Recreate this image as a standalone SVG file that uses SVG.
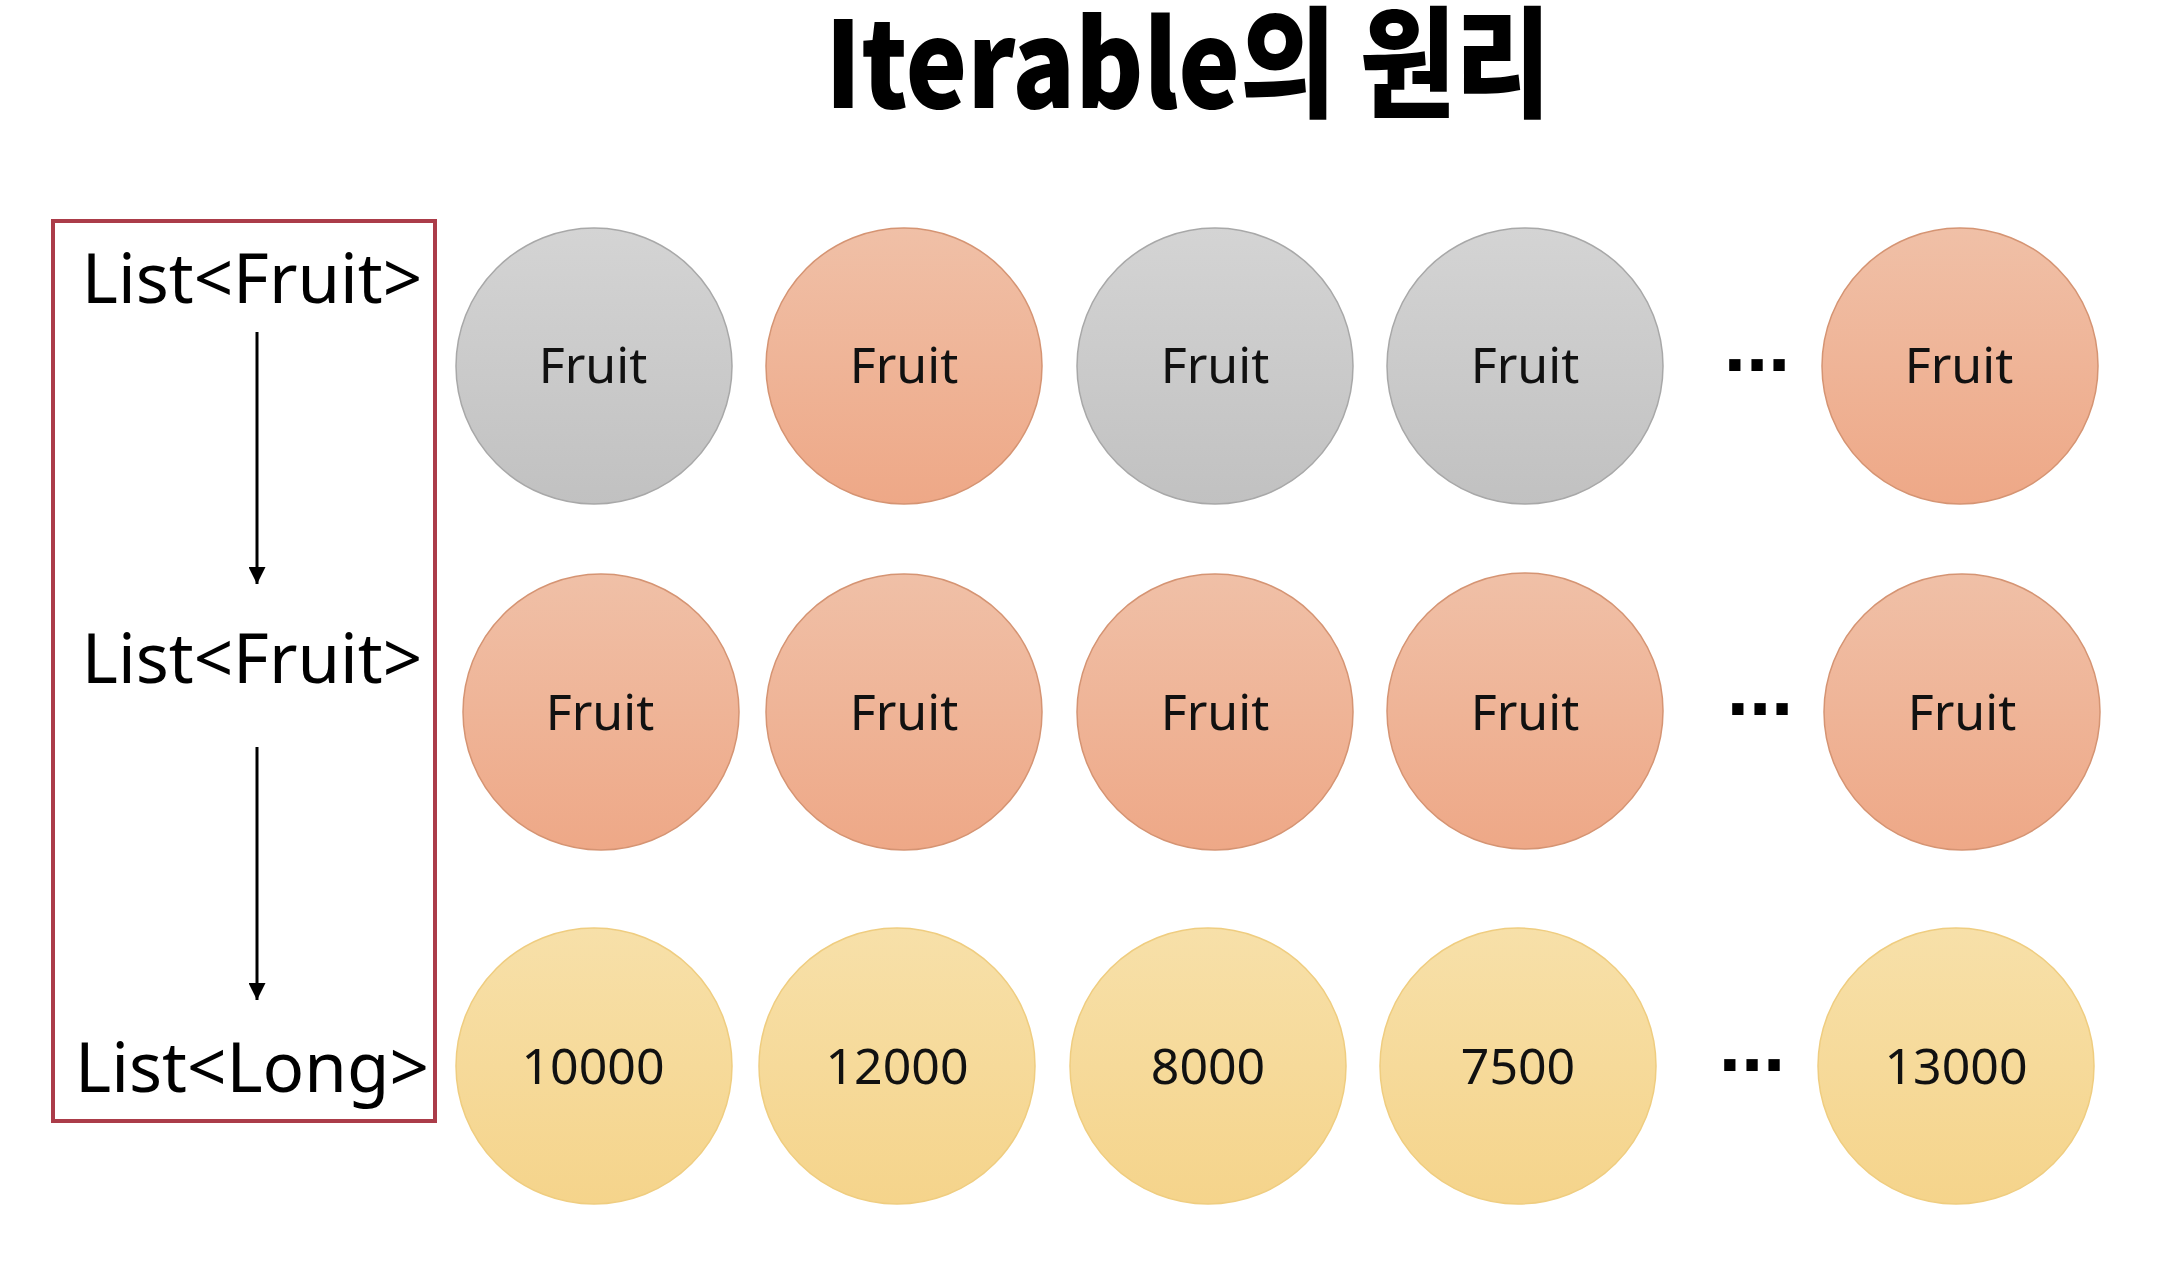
<svg xmlns="http://www.w3.org/2000/svg" width="2184" height="1272" viewBox="0 0 2184 1272">
<defs>
<linearGradient id="gGray" x1="0" y1="0" x2="0" y2="1"><stop offset="0" stop-color="#d4d4d4"/><stop offset="1" stop-color="#c1c1c1"/></linearGradient>
<linearGradient id="gOrange" x1="0" y1="0" x2="0" y2="1"><stop offset="0" stop-color="#f0c0a7"/><stop offset="1" stop-color="#eea887"/></linearGradient>
<linearGradient id="gYellow" x1="0" y1="0" x2="0" y2="1"><stop offset="0" stop-color="#f7e0a9"/><stop offset="1" stop-color="#f5d48b"/></linearGradient>
<marker id="arrow" viewBox="0 0 10 10" refX="10" refY="5" markerWidth="17" markerHeight="17" markerUnits="userSpaceOnUse" orient="auto"><path d="M0,0 L10,5 L0,10 z" fill="#000"/></marker>
</defs>
<style>
.gray{fill:url(#gGray);stroke:#a8a8a8;stroke-width:1.5}
.orange{fill:url(#gOrange);stroke:#d59473;stroke-width:1.5}
.yellow{fill:url(#gYellow);stroke:#efcd80;stroke-width:1.5}
.lbl{font-family:"Noto Sans","DejaVu Sans",sans-serif;font-size:50px;fill:#111;text-anchor:middle}
.type{font-family:"Noto Sans","DejaVu Sans",sans-serif;font-size:69px;fill:#000;text-anchor:middle}
.dots{font-family:"Liberation Sans",Arial,sans-serif;font-weight:bold;font-size:80px;fill:#000;text-anchor:middle}
.conn{stroke:#000;stroke-width:3;fill:none}
</style>
<rect width="2184" height="1272" fill="#fff"/>
<text x="1188" y="108" font-family="'Noto Sans CJK KR','Noto Sans',sans-serif" font-weight="900" font-size="120" text-anchor="middle" textLength="726" lengthAdjust="spacingAndGlyphs" fill="#000">Iterable의 원리</text>

<g id="typebox">
<rect x="53" y="221" width="382" height="900" fill="none" stroke="#ab3c49" stroke-width="4"/>
<text class="type" x="252" y="303">List&lt;Fruit&gt;</text>
<text class="type" x="252" y="683">List&lt;Fruit&gt;</text>
<text class="type" x="252" y="1092">List&lt;Long&gt;</text>
</g>

<g id="connectors">
<line class="conn" x1="257" y1="332" x2="257" y2="584" marker-end="url(#arrow)"/>
<line class="conn" x1="257" y1="747" x2="257" y2="1000" marker-end="url(#arrow)"/>
</g>

<g id="r1c1"><circle class="gray" cx="594" cy="366" r="138"/><text class="lbl" x="593" y="383">Fruit</text></g>
<g id="r1c2"><circle class="orange" cx="904" cy="366" r="138"/><text class="lbl" x="904" y="383">Fruit</text></g>
<g id="r1c3"><circle class="gray" cx="1215" cy="366" r="138"/><text class="lbl" x="1215" y="383">Fruit</text></g>
<g id="r1c4"><circle class="gray" cx="1525" cy="366" r="138"/><text class="lbl" x="1525" y="383">Fruit</text></g>
<text class="dots" x="1757" y="371">...</text>
<g id="r1c6"><circle class="orange" cx="1960" cy="366" r="138"/><text class="lbl" x="1959" y="383">Fruit</text></g>

<g id="r2c1"><circle class="orange" cx="601" cy="712" r="138"/><text class="lbl" x="600" y="730">Fruit</text></g>
<g id="r2c2"><circle class="orange" cx="904" cy="712" r="138"/><text class="lbl" x="904" y="730">Fruit</text></g>
<g id="r2c3"><circle class="orange" cx="1215" cy="712" r="138"/><text class="lbl" x="1215" y="730">Fruit</text></g>
<g id="r2c4"><circle class="orange" cx="1525" cy="711" r="138"/><text class="lbl" x="1525" y="730">Fruit</text></g>
<text class="dots" x="1760" y="715">...</text>
<g id="r2c6"><circle class="orange" cx="1962" cy="712" r="138"/><text class="lbl" x="1962" y="730">Fruit</text></g>

<g id="r3c1"><circle class="yellow" cx="594" cy="1066" r="138"/><text class="lbl" x="593" y="1084">10000</text></g>
<g id="r3c2"><circle class="yellow" cx="897" cy="1066" r="138"/><text class="lbl" x="897" y="1084">12000</text></g>
<g id="r3c3"><circle class="yellow" cx="1208" cy="1066" r="138"/><text class="lbl" x="1208" y="1084">8000</text></g>
<g id="r3c4"><circle class="yellow" cx="1518" cy="1066" r="138"/><text class="lbl" x="1518" y="1084">7500</text></g>
<text class="dots" x="1752" y="1071">...</text>
<g id="r3c6"><circle class="yellow" cx="1956" cy="1066" r="138"/><text class="lbl" x="1956" y="1084">13000</text></g>
</svg>
